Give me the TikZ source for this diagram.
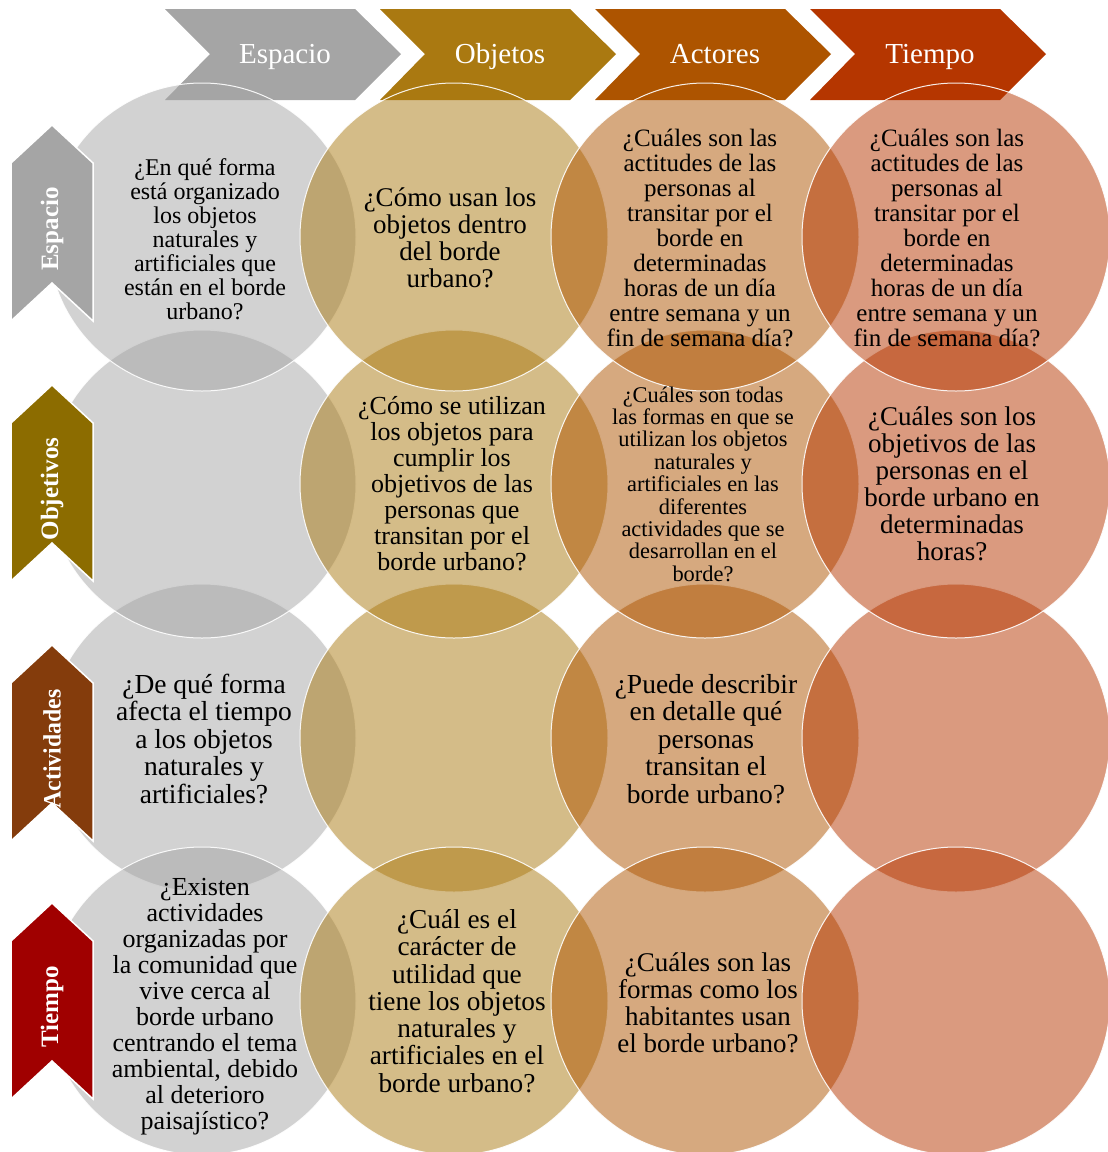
\documentclass[tikz,border=0pt]{standalone}
\usepackage{fontspec}
\setmainfont{Liberation Serif}
\usepackage{tikz}
\definecolor{espgray}{RGB}{165,165,165}
\definecolor{objbrown}{RGB}{170,121,17}
\definecolor{actorange}{RGB}{173,84,0}
\definecolor{tiemred}{RGB}{181,54,0}
\definecolor{objolive}{RGB}{140,108,0}
\definecolor{actbrown}{RGB}{132,60,12}
\definecolor{tiemdark}{RGB}{160,0,0}

\begin{document}
\begin{tikzpicture}[x=1pt,y=-1pt,
    hdrtext/.style={text=white, anchor=base, font=\fontsize{29}{29}\selectfont},
    sidetext/.style={text=white, font=\bfseries\fontsize{25}{25}\selectfont, rotate=90},
    qtext/.style={align=center, text=black, font=\fontsize{#1}{#1}\selectfont}]
        \useasboundingbox (0,0) rectangle (1108,1152);

        % Column headers
        \foreach \x/\name/\col [count=\i] in {165/Espacio/espgray, 380/Objetos/objbrown, 595/Actores/actorange, 810/Tiempo/tiemred} {
          \fill[\col] (\x,9) -- (\x+190,9) -- (\x+236,54) -- (\x+190,100) -- (\x,100) -- (\x+45,54) -- cycle;
          \node[hdrtext] (hdr\i) at (\x+120,63) {\name};
        }

        % Circles of the grid
        \foreach \cx/\col in {202/espgray, 454/objbrown, 705/actorange, 956/tiemred}
          \foreach \cy in {738,1001,484,237}
            \draw[white, line width=1, fill=\col, fill opacity=0.5, draw opacity=0.9] (\cx,\cy) circle (154);

        % Row headers
        \foreach \y/\name/\col/\sx [count=\i] in {125/Espacio/espgray/1, 385/Objetivos/objolive/1, 645/Actividades/actbrown/0.95, 903/Tiempo/tiemdark/1} {
          \draw[white, line width=1.5, fill=\col] (11,\y+38) -- (52,\y) -- (93,\y+38) -- (93,\y+196) -- (52,\y+158) -- (11,\y+196) -- cycle;
          \node[sidetext] (side\i) at (52,\y+104) {\scalebox{\sx}[1]{\name}};
        }

        % Questions
        \node[qtext=24] (q11) at (205,239) {¿En qué forma\\está organizado\\los objetos\\naturales y\\artificiales que\\están en el borde\\urbano?};
        \node[qtext=27] (q12) at (450,238) {¿Cómo usan los\\objetos dentro\\del borde\\urbano?};
        \node[qtext=25] (q13) at (700,238) {¿Cuáles son las\\actitudes de las\\personas al\\transitar por el\\borde en\\determinadas\\horas de un día\\entre semana y un\\fin de semana día?};
        \node[qtext=25] (q14) at (947,238) {¿Cuáles son las\\actitudes de las\\personas al\\transitar por el\\borde en\\determinadas\\horas de un día\\entre semana y un\\fin de semana día?};

        \node[qtext=26] (q22) at (452,484) {¿Cómo se utilizan\\los objetos para\\cumplir los\\objetivos de las\\personas que\\transitan por el\\borde urbano?};
        \node[qtext=22.4] (q23) at (703,484) {¿Cuáles son todas\\las formas en que se\\utilizan los objetos\\naturales y\\artificiales en las\\diferentes\\actividades que se\\desarrollan en el\\borde?};
        \node[qtext=27] (q24) at (952,484) {¿Cuáles son los\\objetivos de las\\personas en el\\borde urbano en\\determinadas\\horas?};

        \node[qtext=27.5] (q31) at (204,739) {¿De qué forma\\afecta el tiempo\\a los objetos\\naturales y\\artificiales?};
        \node[qtext=27.5] (q33) at (706,739) {¿Puede describir\\en detalle qué\\personas\\transitan el\\borde urbano?};

        \node[qtext=26] (q41) at (205,1007) {¿Existen\\actividades\\organizadas por\\la comunidad que\\vive cerca al\\borde urbano\\centrando el tema\\ambiental, debido\\al deterioro\\paisajístico?};
        \node[qtext=27.3] (q42) at (457,1001) {¿Cuál es el\\carácter de\\utilidad que\\tiene los objetos\\naturales y\\artificiales en el\\borde urbano?};
        \node[qtext=27] (q43) at (708,1003) {¿Cuáles son las\\formas como los\\habitantes usan\\el borde urbano?};
      \end{tikzpicture}
\end{document}
